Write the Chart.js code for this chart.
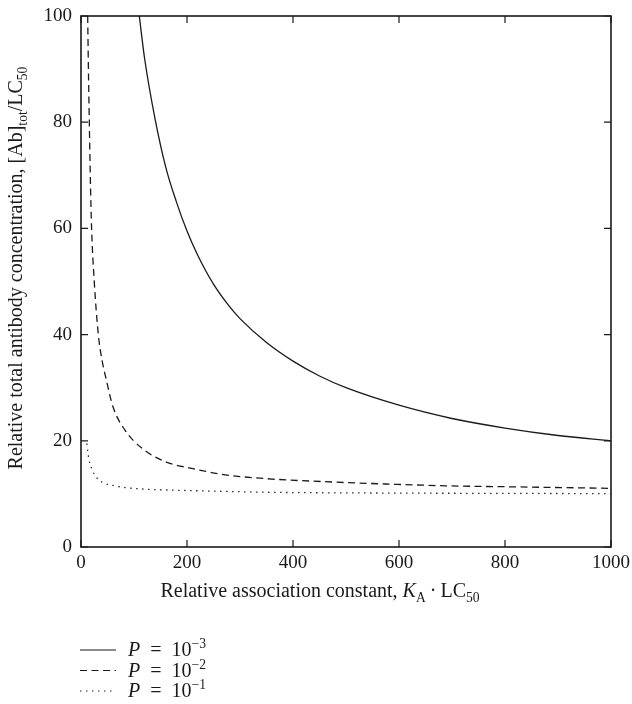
<!DOCTYPE html>
<html>
<head>
<meta charset="utf-8">
<script src="https://cdn.jsdelivr.net/npm/chart.js@4"></script>
<style>
  body { margin: 0; background: #fff; }
</style>
</head>
<body>
<canvas id="myChart" width="632" height="704"></canvas>
<script>
// values
const xTicks = [0, 200, 400, 600, 800, 1000];
const yTicks = [0, 20, 40, 60, 80, 100];

// P = 10^-3 (solid)
const solidX = [110, 120, 140, 160, 180, 200, 220, 250, 280, 300, 350, 400, 450, 500, 600, 700, 800, 900, 1000];
const solidY = [100, 92, 80.5, 71.5, 65, 59.5, 55, 49.5, 45.3, 43, 38.5, 35, 32.2, 30, 26.7, 24.2, 22.4, 21, 20];

// P = 10^-2 (dashed)
const dashX = [12.6, 14, 15.7, 17.5, 20, 25, 32.7, 40, 48, 60, 83, 115, 158, 209, 272, 360, 460, 564, 700, 800, 1000];
const dashY = [100, 90, 80, 70, 60, 50, 40, 35, 31.4, 26.5, 22, 18.6, 16.1, 14.8, 13.6, 12.8, 12.3, 11.9, 11.5, 11.35, 11.05];

// P = 10^-1 (dotted)
const dotX = [11, 13, 15, 20, 30, 42, 60, 83, 120, 177, 260, 360, 600, 800, 1000];
const dotY = [19.5, 17.8, 16.5, 14.8, 13, 12.1, 11.6, 11.2, 10.9, 10.7, 10.5, 10.3, 10.15, 10.1, 10.05];

const legendLabels = ['3', '2', '1'];

const ink = '#1a1a1a';
const serif = '"Liberation Serif", "DejaVu Serif", serif';

function pts(xs, ys) {
  return xs.map((x, i) => ({ x: x, y: ys[i] }));
}

// draws text pieces with sub/superscripts
function richText(ctx, parts, x, y, size, align) {
  const widths = parts.map(p => {
    ctx.font = (p.italic ? 'italic ' : '') + (p.sub || p.sup ? size * 0.68 : size) + 'px ' + serif;
    return ctx.measureText(p.t).width;
  });
  const total = widths.reduce((a, b) => a + b, 0);
  let cx = align === 'center' ? x - total / 2 : x;
  ctx.textAlign = 'left';
  ctx.textBaseline = 'alphabetic';
  parts.forEach((p, i) => {
    ctx.font = (p.italic ? 'italic ' : '') + (p.sub || p.sup ? size * 0.68 : size) + 'px ' + serif;
    let dy = 0;
    if (p.sub) dy = size * 0.25;
    if (p.sup) dy = -size * 0.4;
    ctx.fillText(p.t, cx, y + dy);
    cx += widths[i];
  });
  return total;
}

// keep the plot box where the layout padding puts it
function noOverflow(scale) {
  scale.paddingTop = 0;
  scale.paddingBottom = 0;
  scale.paddingLeft = 0;
  scale.paddingRight = 0;
}

const framePlugin = {
  id: 'frame',
  afterDatasetsDraw(chart) {
    const ctx = chart.ctx;
    const a = chart.chartArea;
    const xs = chart.scales.x, ys = chart.scales.y;
    ctx.save();
    ctx.strokeStyle = ink;
    ctx.lineWidth = 1.6;
    ctx.strokeRect(a.left, a.top, a.right - a.left, a.bottom - a.top);
    ctx.lineWidth = 1.2;
    ctx.beginPath();
    xTicks.forEach(v => {
      const px = xs.getPixelForValue(v);
      ctx.moveTo(px, a.bottom); ctx.lineTo(px, a.bottom - 7);
      ctx.moveTo(px, a.top); ctx.lineTo(px, a.top + 7);
    });
    yTicks.forEach(v => {
      const py = ys.getPixelForValue(v);
      ctx.moveTo(a.left, py); ctx.lineTo(a.left + 7, py);
      ctx.moveTo(a.right, py); ctx.lineTo(a.right - 7, py);
    });
    ctx.stroke();
    ctx.restore();
  },
  afterDraw(chart) {
    const ctx = chart.ctx;
    ctx.save();
    ctx.fillStyle = ink;
    // x title
    richText(ctx, [
      { t: 'Relative association constant, ' },
      { t: 'K', italic: true },
      { t: 'A', sub: true },
      { t: '\u2009\u00B7\u2009LC' },
      { t: '50', sub: true }
    ], 320, 597, 20, 'center');
    // y title
    ctx.translate(22, 268);
    ctx.rotate(-Math.PI / 2);
    richText(ctx, [
      { t: 'Relative total antibody concentration, [Ab]' },
      { t: 'tot', sub: true },
      { t: '/LC' },
      { t: '50', sub: true }
    ], 0, 0, 20, 'center');
    ctx.restore();

    // legend
    ctx.save();
    ctx.strokeStyle = ink;
    ctx.fillStyle = ink;
    chart.data.datasets.forEach((ds, i) => {
      const y = 646 + i * 20.5;
      ctx.lineWidth = 1.2;
      ctx.setLineDash(ds.borderDash || []);
      ctx.beginPath();
      ctx.moveTo(80, y + 4);
      ctx.lineTo(116, y + 4);
      ctx.stroke();
      ctx.setLineDash([]);
      richText(ctx, [
        { t: 'P', italic: true },
        { t: '\u2002=\u200210' },
        { t: '\u2212' + legendLabels[i], sup: true }
      ], 128, y + 10, 20, 'left');
    });
    ctx.restore();
  }
};

const data = {
  datasets: [{
    label: 'P = 10^-3',
    data: pts(solidX, solidY),
    borderColor: ink,
    borderWidth: 1.3,
    borderDash: [],
    pointRadius: 0,
    cubicInterpolationMode: 'monotone'
  }, {
    label: 'P = 10^-2',
    data: pts(dashX, dashY),
    borderColor: ink,
    borderWidth: 1.3,
    borderDash: [7, 4.5],
    pointRadius: 0,
    cubicInterpolationMode: 'monotone'
  }, {
    label: 'P = 10^-1',
    data: pts(dotX, dotY),
    borderColor: ink,
    borderWidth: 1.3,
    borderDash: [1.4, 4.6],
    pointRadius: 0,
    cubicInterpolationMode: 'monotone'
  }]
};

const config = {
  type: 'line',
  data: data,
  options: {
    responsive: false,
    animation: false,
    layout: { padding: { left: 0, right: 21, top: 16, bottom: 0 } },
    plugins: { legend: { display: false }, tooltip: { enabled: false } },
    scales: {
      x: {
        type: 'linear', min: 0, max: 1000,
        afterBuildTicks(scale) { scale.ticks = xTicks.map(v => ({ value: v })); },
        afterFit(scale) { scale.height = 704 - 547; noOverflow(scale); },
        grid: { display: false, drawTicks: false },
        border: { display: false },
        ticks: { color: ink, padding: 5, maxRotation: 0, callback: v => String(v), font: { family: serif, size: 19 } }
      },
      y: {
        type: 'linear', min: 0, max: 100,
        afterBuildTicks(scale) { scale.ticks = yTicks.map(v => ({ value: v })); },
        afterFit(scale) { scale.width = 81; noOverflow(scale); },
        grid: { display: false, drawTicks: false },
        border: { display: false },
        ticks: { color: ink, padding: 9, callback: v => String(v), font: { family: serif, size: 19 } }
      }
    }
  },
  plugins: [framePlugin]
};

var myChart = new Chart(
  document.getElementById('myChart'),
  config
);
</script>
</body>
</html>
